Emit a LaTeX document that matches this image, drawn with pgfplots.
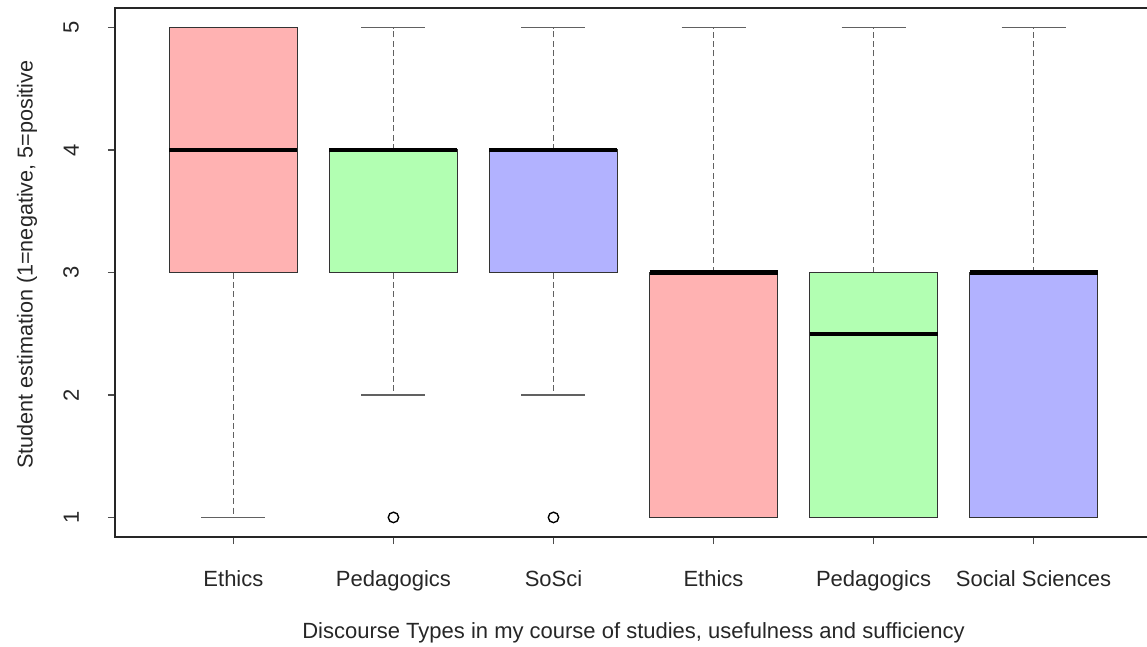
\documentclass[border=0pt]{standalone}
\usepackage{pgfplots}
\pgfplotsset{compat=1.18}
\usepgfplotslibrary{statistics}
\usepackage{fontspec}
\setmainfont{Liberation Sans}
\definecolor{rfill}{RGB}{255,178,178}
\definecolor{gfill}{RGB}{178,255,178}
\definecolor{bfill}{RGB}{178,178,255}
\pgfplotsset{
  rbox/.style={
    boxplot/draw direction=y,
    boxplot/draw/lower whisker/.code={%
      \draw[black!62, line width=0.85pt, dash pattern=on 3pt off 1.7pt] (boxplot cs:\pgfplotsboxplotvalue{lower quartile}) -- (boxplot cs:\pgfplotsboxplotvalue{lower whisker});
      \draw[black!62, line width=0.85pt] (boxplot whisker cs:\pgfplotsboxplotvalue{lower whisker},0) -- (boxplot whisker cs:\pgfplotsboxplotvalue{lower whisker},1);
    },
    boxplot/draw/upper whisker/.code={%
      \draw[black!62, line width=0.85pt, dash pattern=on 3pt off 1.7pt] (boxplot cs:\pgfplotsboxplotvalue{upper quartile}) -- (boxplot cs:\pgfplotsboxplotvalue{upper whisker});
      \draw[black!62, line width=0.85pt] (boxplot whisker cs:\pgfplotsboxplotvalue{upper whisker},0) -- (boxplot whisker cs:\pgfplotsboxplotvalue{upper whisker},1);
    },
    boxplot/draw/median/.code={%
      \draw[black, line width=2.1pt] (boxplot box cs:\pgfplotsboxplotvalue{median},0) -- (boxplot box cs:\pgfplotsboxplotvalue{median},1);
    },
    boxplot/box extend=0.8,
    boxplot/whisker extend=0.4,
    mark=o, mark size=2.6pt, mark options={black, solid, line width=0.7pt},
  }
}
\begin{document}
\begin{tikzpicture}
\begin{axis}[
  name=ax,
  scale only axis,
  width=518.5pt, height=264.5pt,
  xmin=0.26, xmax=6.74,
  ymin=0.84, ymax=5.16,
  axis line style={black!85, line width=0.7pt},
  tick pos=left,
  tick align=outside,
  major tick length=3.5pt,
  tick style={black!70, line width=0.7pt},
  xtick={1,2,3,4,5,6},
  xticklabels={Ethics,Pedagogics,SoSci,Ethics,Pedagogics,Social Sciences},
  ytick={1,2,3,4,5},
  ticklabel style={font=\fontsize{11}{13}\selectfont, text=black!85},
  /pgf/number format/assume math mode=true,
  yticklabel style={rotate=90, anchor=south},
  yticklabel shift=11pt,
  xticklabel shift=9.5pt,
  xlabel={Discourse Types in my course of studies, usefulness and sufficiency},
  ylabel={Student estimation (1=negative, 5=positive},
  every axis x label/.style={at={(axis description cs:0.5,0)}, yshift=-48pt, anchor=center, font=\fontsize{11}{13}\selectfont, text=black!85},
  every axis y label/.style={at={(axis description cs:0,0.515)}, xshift=-44pt, rotate=90, anchor=center, font=\fontsize{10.8}{13}\selectfont, text=black!85},
]
\addplot[rbox, boxplot prepared={draw position=1, lower whisker=1, lower quartile=3, median=4, upper quartile=5, upper whisker=5, every box/.style={fill=rfill, draw=black!80, line width=0.8pt}}] coordinates {};
\addplot[rbox, boxplot prepared={draw position=2, lower whisker=2, lower quartile=3, median=4, upper quartile=4, upper whisker=5, every box/.style={fill=gfill, draw=black!80, line width=0.8pt}}] table[row sep=\\, y index=0] {data\\1\\};
\addplot[rbox, boxplot prepared={draw position=3, lower whisker=2, lower quartile=3, median=4, upper quartile=4, upper whisker=5, every box/.style={fill=bfill, draw=black!80, line width=0.8pt}}] table[row sep=\\, y index=0] {data\\1\\};
\addplot[rbox, boxplot prepared={draw position=4, lower whisker=1, lower quartile=1, median=3, upper quartile=3, upper whisker=5, every box/.style={fill=rfill, draw=black!80, line width=0.8pt}}] coordinates {};
\addplot[rbox, boxplot prepared={draw position=5, lower whisker=1, lower quartile=1, median=2.5, upper quartile=3, upper whisker=5, every box/.style={fill=gfill, draw=black!80, line width=0.8pt}}] coordinates {};
\addplot[rbox, boxplot prepared={draw position=6, lower whisker=1, lower quartile=1, median=3, upper quartile=3, upper whisker=5, every box/.style={fill=bfill, draw=black!80, line width=0.8pt}}] coordinates {};
\end{axis}
\pgfresetboundingbox
\useasboundingbox ([shift={(-57.5pt,-54.5pt)}]ax.south west) rectangle ([shift={(516pt,4pt)}]ax.north west);
\end{tikzpicture}
\end{document}
